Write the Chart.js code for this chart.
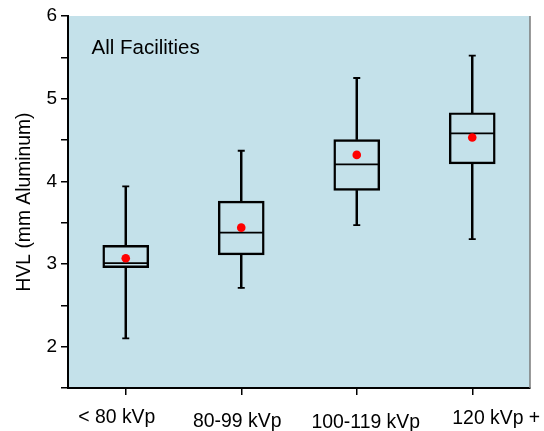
<!DOCTYPE html>
<html><head><meta charset="utf-8">
<script src="https://cdn.jsdelivr.net/npm/chart.js@4"></script>
<style>html,body{margin:0;padding:0;background:#fff}#wrap{width:544px;height:431px}</style>
</head><body><div id="wrap"><canvas id="c"></canvas></div>
<script>
const categories = ['< 80 kVp', '80-99 kVp', '100-119 kVp', '120 kVp +'];
const whiskerLow = [2.10, 2.71, 3.47, 3.30];
const q1 = [2.955, 3.11, 3.89, 4.21];
const median = [3.01, 3.38, 4.205, 4.58];
const q3 = [3.225, 3.76, 4.506, 4.83];
const whiskerHigh = [3.94, 4.37, 5.25, 5.52];
const means = [3.07, 3.44, 4.32, 4.53];
const yTickLabels = [2, 3, 4, 5, 6];
const panelLabel = 'All Facilities';
const yTitle = 'HVL (mm Aluminum)';

const FONT = "'Liberation Sans', Arial, sans-serif";
// small per-label placement nudges of the category labels, as in the original figure
const labelDx = [-9, -4, 9, 24];
const labelDy = [35, 38.7, 39.7, 36.3];

function zeroPad(s) { s.paddingTop = 0; s.paddingBottom = 0; s.paddingLeft = 0; s.paddingRight = 0; }

const bgPlugin = {
  id: 'bg',
  beforeDraw(chart) {
    const {ctx, chartArea: a} = chart;
    ctx.save();
    ctx.fillStyle = '#c4e1ea';
    ctx.fillRect(a.left, a.top, a.right - a.left, a.bottom - a.top);
    ctx.restore();
  },
  afterDraw(chart) {
    const {ctx, chartArea: a} = chart;
    ctx.save();
    ctx.strokeStyle = '#7a7a7a';
    ctx.lineWidth = 1.5;
    ctx.beginPath();
    ctx.moveTo(a.right, a.top);
    ctx.lineTo(a.right, a.bottom);
    ctx.stroke();
    ctx.fillStyle = '#000';
    ctx.font = '20.5px ' + FONT;
    ctx.textBaseline = 'alphabetic';
    ctx.textAlign = 'left';
    ctx.fillText(panelLabel, a.left + 23.5, a.top + 38);
    // category labels placed from the x scale
    const xs = chart.scales.x;
    ctx.font = '19.4px ' + FONT;
    ctx.textAlign = 'center';
    xs.getLabels().forEach((lab, i) => {
      ctx.fillText(lab, xs.getPixelForValue(i) + labelDx[i], xs.top + labelDy[i]);
    });
    ctx.restore();
  }
};

new Chart(document.getElementById('c'), {
  type: 'bar',
  data: {
    labels: categories,
    datasets: [
      {
        type: 'line', data: means, showLine: false, order: 0,
        pointStyle: 'circle', pointRadius: 4.3, pointBackgroundColor: '#ff0000',
        pointBorderColor: '#ff0000', pointBorderWidth: 0
      },
      {
        type: 'line', data: median, showLine: false, order: 1,
        pointStyle: 'line', pointRadius: 22.5, pointBorderColor: '#000', pointBorderWidth: 1.8
      },
      {
        type: 'line', data: whiskerHigh, showLine: false, order: 2,
        pointStyle: 'line', pointRadius: 3.5, pointBorderColor: '#000', pointBorderWidth: 1.8
      },
      {
        type: 'line', data: whiskerLow, showLine: false, order: 2,
        pointStyle: 'line', pointRadius: 3.5, pointBorderColor: '#000', pointBorderWidth: 1.8
      },
      {
        data: categories.map((c, i) => [q1[i], q3[i]]), order: 3,
        backgroundColor: 'rgba(0,0,0,0)', borderColor: '#000', borderWidth: 1.8,
        borderSkipped: false, barThickness: 46, grouped: false
      },
      {
        data: categories.map((c, i) => [q3[i], whiskerHigh[i]]), order: 4,
        backgroundColor: '#000', borderWidth: 0, barThickness: 1.8, grouped: false
      },
      {
        data: categories.map((c, i) => [whiskerLow[i], q1[i]]), order: 4,
        backgroundColor: '#000', borderWidth: 0, barThickness: 1.8, grouped: false
      }
    ]
  },
  options: {
    responsive: true,
    maintainAspectRatio: false,
    animation: false,
    layout: {autoPadding: false, padding: {top: 16, right: 14, left: 0, bottom: 0}},
    plugins: {legend: {display: false}, tooltip: {enabled: false}},
    scales: {
      x: {
        type: 'category',
        offset: true,
        afterFit(s) { s.height = 43; zeroPad(s); },
        grid: {offset: false, drawOnChartArea: false, drawTicks: true, tickLength: 7, color: '#000', lineWidth: 1.5},
        border: {display: true, color: '#000', width: 2},
        ticks: {display: false, autoSkip: false}
      },
      y: {
        min: 1.5, max: 6,
        afterFit(s) { s.width = 68; zeroPad(s); },
        afterBuildTicks(s) {
          const t = [];
          for (let v = 1.5; v <= 6.0001; v += 0.5) t.push({value: Math.round(v * 10) / 10});
          s.ticks = t;
        },
        grid: {drawOnChartArea: false, drawTicks: true, tickLength: 7, color: '#000', lineWidth: 1.5},
        border: {display: true, color: '#000', width: 2},
        ticks: {
          color: '#000', padding: 4, autoSkip: false,
          font: {family: FONT, size: 19},
          callback: (v) => yTickLabels.includes(v) ? String(v) : ''
        },
        title: {display: true, text: yTitle, color: '#000', font: {family: FONT, size: 19.3}, padding: {top: 13, bottom: 0}}
      }
    }
  },
  plugins: [bgPlugin]
});
</script>
</body></html>
